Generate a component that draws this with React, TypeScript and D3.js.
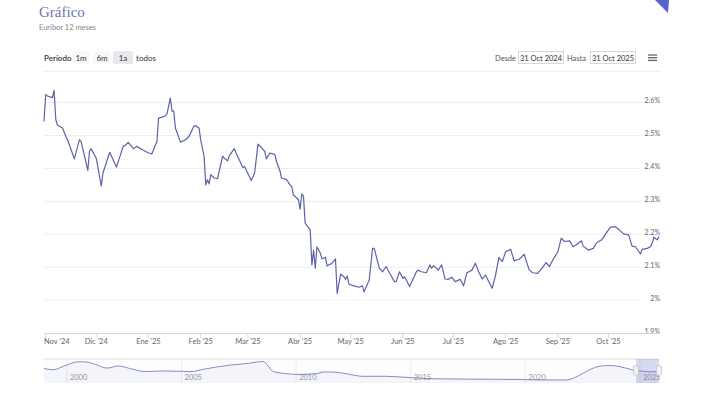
import * as d3 from "d3";

// Euribor 12 meses, daily-ish readings
const days = [
  "2024-10-31", "2024-11-01", "2024-11-02", "2024-11-05", "2024-11-06", "2024-11-07", "2024-11-08", "2024-11-11",
  "2024-11-13", "2024-11-14", "2024-11-18", "2024-11-21", "2024-11-22", "2024-11-26", "2024-11-27", "2024-11-28",
  "2024-12-01", "2024-12-04", "2024-12-05", "2024-12-09", "2024-12-13", "2024-12-17", "2024-12-18", "2024-12-20",
  "2024-12-23", "2024-12-25", "2024-12-29", "2025-01-01", "2025-01-03", "2025-01-06", "2025-01-07", "2025-01-09",
  "2025-01-11", "2025-01-12", "2025-01-14", "2025-01-15", "2025-01-16", "2025-01-17", "2025-01-20", "2025-01-23",
  "2025-01-25", "2025-01-28", "2025-01-29", "2025-01-31", "2025-02-01", "2025-02-03", "2025-02-04", "2025-02-05",
  "2025-02-06", "2025-02-07", "2025-02-09", "2025-02-11", "2025-02-14", "2025-02-15", "2025-02-17", "2025-02-18",
  "2025-02-21", "2025-02-22", "2025-02-26", "2025-02-27", "2025-03-03", "2025-03-05", "2025-03-07", "2025-03-09",
  "2025-03-11", "2025-03-12", "2025-03-14", "2025-03-17", "2025-03-18", "2025-03-20", "2025-03-21", "2025-03-24",
  "2025-03-26", "2025-03-27", "2025-03-28", "2025-03-31", "2025-04-01", "2025-04-02", "2025-04-03", "2025-04-04",
  "2025-04-07", "2025-04-08", "2025-04-09", "2025-04-10", "2025-04-11", "2025-04-13", "2025-04-14", "2025-04-16",
  "2025-04-17", "2025-04-20", "2025-04-22", "2025-04-23", "2025-04-25", "2025-04-27", "2025-04-28", "2025-04-29",
  "2025-04-30", "2025-05-03", "2025-05-06", "2025-05-08", "2025-05-09", "2025-05-12", "2025-05-14", "2025-05-15",
  "2025-05-18", "2025-05-20", "2025-05-22", "2025-05-24", "2025-05-27", "2025-05-28", "2025-05-30", "2025-06-01",
  "2025-06-02", "2025-06-05", "2025-06-09", "2025-06-10", "2025-06-12", "2025-06-15", "2025-06-17", "2025-06-18",
  "2025-06-19", "2025-06-21", "2025-06-22", "2025-06-24", "2025-06-26", "2025-06-28", "2025-06-30", "2025-07-02",
  "2025-07-05", "2025-07-07", "2025-07-09", "2025-07-12", "2025-07-14", "2025-07-16", "2025-07-18", "2025-07-20",
  "2025-07-22", "2025-07-24", "2025-07-26", "2025-07-28", "2025-07-30", "2025-08-01", "2025-08-04", "2025-08-06",
  "2025-08-09", "2025-08-12", "2025-08-15", "2025-08-17", "2025-08-20", "2025-08-22", "2025-08-25", "2025-08-27",
  "2025-08-29", "2025-09-01", "2025-09-03", "2025-09-05", "2025-09-08", "2025-09-10", "2025-09-12", "2025-09-15",
  "2025-09-16", "2025-09-19", "2025-09-22", "2025-09-24", "2025-09-27", "2025-09-29", "2025-10-02", "2025-10-05",
  "2025-10-07", "2025-10-10", "2025-10-13", "2025-10-15", "2025-10-17", "2025-10-20", "2025-10-21", "2025-10-24",
  "2025-10-26", "2025-10-27", "2025-10-28", "2025-10-30", "2025-10-31",
];
const euribor = [
  2.543, 2.624, 2.62, 2.615, 2.637, 2.548, 2.531, 2.523,
  2.497, 2.487, 2.429, 2.487, 2.482, 2.394, 2.452, 2.46,
  2.431, 2.347, 2.386, 2.449, 2.404, 2.467, 2.469, 2.479,
  2.46, 2.467, 2.455, 2.447, 2.444, 2.482, 2.553, 2.556,
  2.56, 2.566, 2.614, 2.574, 2.574, 2.523, 2.48, 2.487,
  2.497, 2.528, 2.53, 2.523, 2.487, 2.437, 2.35, 2.366,
  2.353, 2.381, 2.371, 2.369, 2.437, 2.431, 2.423, 2.439,
  2.46, 2.447, 2.403, 2.406, 2.363, 2.386, 2.474, 2.464,
  2.452, 2.429, 2.447, 2.442, 2.421, 2.393, 2.371, 2.366,
  2.35, 2.345, 2.32, 2.305, 2.276, 2.323, 2.315, 2.234,
  2.213, 2.107, 2.152, 2.097, 2.162, 2.142, 2.125, 2.13,
  2.104, 2.112, 2.125, 2.02, 2.079, 2.071, 2.063, 2.073,
  2.048, 2.043, 2.039, 2.043, 2.025, 2.061, 2.157, 2.157,
  2.097, 2.086, 2.102, 2.083, 2.056, 2.056, 2.086, 2.066,
  2.071, 2.041, 2.086, 2.091, 2.086, 2.083, 2.107, 2.097,
  2.104, 2.097, 2.091, 2.107, 2.064, 2.063, 2.069, 2.056,
  2.063, 2.043, 2.083, 2.091, 2.112, 2.086, 2.064, 2.076,
  2.056, 2.036, 2.076, 2.13, 2.117, 2.147, 2.154, 2.119,
  2.124, 2.139, 2.091, 2.083, 2.081, 2.093, 2.114, 2.102,
  2.122, 2.147, 2.188, 2.178, 2.18, 2.162, 2.168, 2.18,
  2.164, 2.152, 2.157, 2.174, 2.183, 2.198, 2.221, 2.223,
  2.215, 2.201, 2.198, 2.164, 2.162, 2.14, 2.154, 2.157,
  2.162, 2.174, 2.191, 2.183, 2.193,
];

const monthLabels = ["Nov '24", "Dic '24", "Ene '25", "Feb '25", "Mar '25", "Abr '25", "May '25", "Jun '25", "Jul '25", "Ago '25", "Sep '25", "Oct '25"];
const yTicks = [1.9, 2.0, 2.1, 2.2, 2.3, 2.4, 2.5, 2.6];
const yLabels = ["1.9%", "2%", "2.1%", "2.2%", "2.3%", "2.4%", "2.5%", "2.6%"];

// navigator: whole history
const navDates = [
  "1999-01", "1999-06", "1999-12", "2000-07", "2000-10", "2001-04", "2001-10", "2002-04", "2002-11", "2003-06",
  "2004-04", "2005-06", "2006-01", "2007-03", "2007-12", "2008-03", "2008-08", "2008-10", "2009-01", "2009-07",
  "2010-02", "2010-12", "2011-04", "2011-10", "2012-05", "2012-12", "2013-12", "2014-11", "2016-02", "2017-08",
  "2019-10", "2020-06", "2021-10", "2022-03", "2022-07", "2023-01", "2023-07", "2023-10", "2024-03", "2024-08",
  "2024-10", "2025-03", "2025-06", "2025-10",
];
const navRates = [
  3.2, 2.8, 4.1, 5.3, 5.3, 4.5, 3.3, 4.0, 3.0, 2.2,
  2.4, 2.2, 3.0, 4.3, 4.8, 5.1, 5.4, 4.2, 2.2, 1.6,
  1.3, 1.6, 2.1, 2.0, 1.3, 0.7, 0.7, 0.35, -0.1, -0.2,
  -0.3, -0.45, -0.48, 0.3, 1.6, 3.4, 4.1, 4.1, 3.7, 2.9,
  2.6, 2.3, 2.1, 2.19,
];

const periodButtons = ["1m", "6m", "1a", "todos"];
const selectedPeriod = "1a";
const rangeFrom = "31 Oct 2024";
const rangeTo = "31 Oct 2025";

const FONT = "Lato, 'Noto Sans', sans-serif";

export default function App() {
  const parse = d3.timeParse("%Y-%m-%d");
  const parseMonth = d3.timeParse("%Y-%m");
  const pts = days.map((d, i) => ({ date: parse(d) as Date, v: euribor[i] }));
  const start = parse("2024-10-31") as Date;
  const end = parse("2025-10-31") as Date;

  const left = 44;
  const right = 659;
  const x = d3.scaleTime().domain([start, end]).range([left, right]);
  const y = d3.scaleLinear().domain([1.9, 2.6]).range([333, 102.6]);

  const line = d3
    .line<{ date: Date; v: number }>()
    .x((d) => x(d.date))
    .y((d) => y(d.v));

  const months = d3.timeMonth.range(parse("2024-11-01") as Date, end);

  // navigator
  const navTop = 359;
  const navBottom = 383;
  const navPts = navDates.map((d, i) => ({ date: parseMonth(d) as Date, v: navRates[i] }));
  const xNav = d3
    .scaleTime()
    .domain([parseMonth("1999-01") as Date, end])
    .range([left, right]);
  const yNav = d3
    .scaleLinear()
    .domain(d3.extent(navRates) as [number, number])
    .range([380, 361.5]);
  const navArea = d3
    .area<{ date: Date; v: number }>()
    .x((d) => xNav(d.date))
    .y0(navBottom)
    .y1((d) => yNav(d.v))
    .curve(d3.curveMonotoneX);
  const navLine = d3
    .line<{ date: Date; v: number }>()
    .x((d) => xNav(d.date))
    .y((d) => yNav(d.v))
    .curve(d3.curveMonotoneX);
  const navYears = xNav.ticks(d3.timeYear.every(5) as d3.TimeInterval);

  const btnX = [72, 93, 113, 135];
  const btnW = [18, 18, 20, 22];

  return (
    <svg
      width={704}
      height={396}
      style={{ position: "fixed", left: 0, top: 0, background: "#fff" }}
      fontFamily={FONT}
    >
      {/* corner ribbon */}
      <polygon points="655,0 669,0 668,13" fill="#5865cf" />

      {/* header */}
      <text x={39} y={17} fontFamily="'Liberation Serif', serif" fontSize={15} fill="#7073b6">
        Gráfico
      </text>
      <text x={39} y={30} fontSize={7.5} fill="#888">
        Euribor 12 meses
      </text>

      {/* range selector */}
      <text x={44} y={61} fontSize={8} fill="#333" fontWeight={600}>
        Período
      </text>
      {periodButtons.map((b, i) => (
        <g key={b}>
          <rect
            x={btnX[i]}
            y={51}
            width={btnW[i]}
            height={13}
            rx={2}
            fill={b === selectedPeriod ? "#e8e8ee" : b === "todos" ? "#fff" : "#f8f8f8"}
          />
          <text x={btnX[i] + btnW[i] / 2} y={61} fontSize={8} fill="#333" textAnchor="middle">
            {b}
          </text>
        </g>
      ))}
      <text x={495} y={60.5} fontSize={7.5} fill="#555">
        Desde
      </text>
      <rect x={518.5} y={51.5} width={45} height={12} fill="#fff" stroke="#ccc" strokeWidth={0.8} />
      <text x={541} y={60.5} fontSize={7.5} fill="#333" textAnchor="middle">
        {rangeFrom}
      </text>
      <text x={567} y={60.5} fontSize={7.5} fill="#555">
        Hasta
      </text>
      <rect x={590.5} y={51.5} width={45} height={12} fill="#fff" stroke="#ccc" strokeWidth={0.8} />
      <text x={613} y={60.5} fontSize={7.5} fill="#333" textAnchor="middle">
        {rangeTo}
      </text>
      {[55, 57.7, 60.4].map((yy) => (
        <line key={yy} x1={648} x2={657} y1={yy} y2={yy} stroke="#666" strokeWidth={1.3} />
      ))}
      <line x1={44} x2={660} y1={71.5} y2={71.5} stroke="#f0f0f0" />

      {/* grid */}
      {yTicks.slice(1).map((t) => (
        <line key={t} x1={left} x2={640} y1={y(t)} y2={y(t)} stroke="#eeeeee" strokeWidth={1} />
      ))}
      {yTicks.map((t, i) => (
        <text key={t} x={660} y={y(t) + 0.5} fontSize={7} fill="#666" textAnchor="end">
          {yLabels[i]}
        </text>
      ))}

      {/* x axis */}
      <line x1={left} x2={660} y1={333.5} y2={333.5} stroke="#d8d8d8" />
      {months.map((m, i) => (
        <g key={i}>
          <line x1={x(m)} x2={x(m)} y1={333.5} y2={338} stroke="#d8d8d8" />
          <text
            x={i === 0 ? left : x(m)}
            y={344}
            fontSize={7.5}
            fill="#666"
            textAnchor={i === 0 ? "start" : "middle"}
          >
            {monthLabels[i]}
          </text>
        </g>
      ))}

      {/* series */}
      <path d={line(pts) ?? ""} fill="none" stroke="#5a63aa" strokeWidth={1.2} strokeLinejoin="round" />

      {/* navigator */}
      <rect x={left} y={navTop} width={right - left} height={navBottom - navTop} fill="#fdfdff" />
      {navYears.map((yr) => (
        <g key={yr.getFullYear()}>
          <line x1={xNav(yr)} x2={xNav(yr)} y1={navTop} y2={navBottom} stroke="#ececec" />
          <text x={xNav(yr) + 3} y={380} fontSize={7.5} fill="#999">
            {yr.getFullYear()}
          </text>
        </g>
      ))}
      <path d={navArea(navPts) ?? ""} fill="rgba(102,110,190,0.06)" />
      <path d={navLine(navPts) ?? ""} fill="none" stroke="#7a80b8" strokeWidth={0.9} />
      <line x1={left} x2={right} y1={navTop} y2={navTop} stroke="#dcdcdc" />
      <rect
        x={xNav(start)}
        y={navTop}
        width={xNav(end) - xNav(start)}
        height={navBottom - navTop}
        fill="rgba(102,110,190,0.25)"
      />
      {[xNav(start), xNav(end)].map((hx, i) => (
        <rect key={i} x={hx - 2.5} y={366} width={5} height={9} rx={1} fill="#f2f2f2" stroke="#bbb" strokeWidth={0.7} />
      ))}
    </svg>
  );
}
